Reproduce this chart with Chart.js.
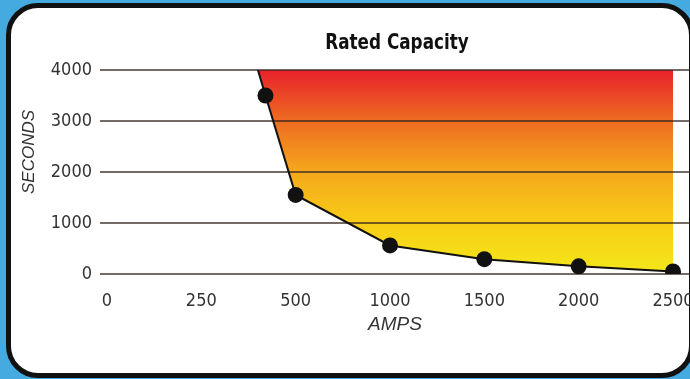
<!DOCTYPE html>
<html>
<head>
<meta charset="utf-8">
<script src="https://cdn.jsdelivr.net/npm/chart.js@4"></script>
<style>
  html, body { margin: 0; padding: 0; }
  body { width: 690px; height: 379px; background: #45aadf; position: relative; overflow: hidden; }
  .card {
    position: absolute; left: 6px; top: 3px; width: 688px; height: 375px;
    box-sizing: border-box; background: #fff; border: 5px solid #111; border-radius: 32px;
  }
  #chart { position: absolute; left: 0; top: 0; }
</style>
</head>
<body>
<div class="card"></div>
<canvas id="chart" width="690" height="379"></canvas>
<script>
// Data
const ampTicks = [0, 250, 500, 1000, 1500, 2000, 2500];
const amps = [400, 420, 500, 1000, 1500, 2000, 2500];
const seconds = [4000, 3500, 1550, 560, 290, 150, 50];
const secondTicks = [0, 1000, 2000, 3000, 4000];

const narrow = "'DejaVu Sans Condensed', 'Liberation Sans Narrow', 'Roboto', sans-serif";

// the x axis is evenly spaced per label, not linear in amps
function ampToPos(a) {
    for (let i = 1; i < ampTicks.length; i++) {
        if (a <= ampTicks[i]) {
            return i - 1 + (a - ampTicks[i - 1]) / (ampTicks[i] - ampTicks[i - 1]);
        }
    }
    return ampTicks.length - 1;
}

const points = amps.map((a, i) => ({ x: ampToPos(a), y: seconds[i] }));

const labelsPlugin = {
    id: 'labels',
    afterDraw(chart) {
        const ctx = chart.ctx;
        const area = chart.chartArea;
        ctx.save();
        ctx.fillStyle = '#111';
        ctx.textAlign = 'center';
        ctx.textBaseline = 'middle';
        // squeeze the title to look like the condensed face
        ctx.save();
        ctx.translate(397, 43);
        ctx.scale(0.85, 1);
        ctx.font = "bold 22px " + narrow;
        ctx.fillText('Rated Capacity', 0, 0);
        ctx.restore();

        ctx.fillStyle = '#333';
        ctx.font = "italic 19px 'Liberation Sans'";
        ctx.fillText('AMPS', (area.left + area.right) / 2, 325);

        ctx.translate(29, 152);
        ctx.rotate(-Math.PI / 2);
        ctx.font = "italic 17px 'Liberation Sans'";
        ctx.fillText('SECONDS', 0, 0);
        ctx.restore();
    }
};

new Chart(document.getElementById('chart'), {
    type: 'line',
    data: {
        datasets: [{
            data: points,
            borderColor: '#111',
            borderWidth: 2,
            tension: 0,
            fill: 'end',
            backgroundColor: (c) => {
                const area = c.chart.chartArea;
                if (!area) return '#f5a81c';
                const g = c.chart.ctx.createLinearGradient(0, area.top, 0, area.bottom);
                g.addColorStop(0, '#e8212a');
                g.addColorStop(0.25, '#ee6c22');
                g.addColorStop(0.5, '#f5a81c');
                g.addColorStop(0.75, '#f8cd16');
                g.addColorStop(1, '#f4e81a');
                return g;
            },
            pointRadius: amps.map((a, i) => i === 0 ? 0 : 8),
            pointHoverRadius: 8,
            pointBackgroundColor: '#111',
            pointBorderWidth: 0
        }]
    },
    options: {
        responsive: false,
        animation: false,
        layout: { autoPadding: false, padding: { top: 70, left: 0, right: 0, bottom: 0 } },
        scales: {
            x: {
                type: 'linear',
                min: -0.074,
                max: 6.18,
                afterBuildTicks: (s) => { s.ticks = ampTicks.map((a, i) => ({ value: i })); },
                afterFit: (s) => { s.height = 105; s.paddingLeft = 0; s.paddingRight = 0; },
                grid: { display: false },
                border: { display: false },
                ticks: {
                    autoSkip: false,
                    maxRotation: 0,
                    padding: 9,
                    color: '#333',
                    font: { family: narrow, size: 18 },
                    callback: (v) => String(ampTicks[v])
                }
            },
            y: {
                min: 0,
                max: 4000,
                afterBuildTicks: (s) => { s.ticks = secondTicks.map(v => ({ value: v })); },
                afterFit: (s) => { s.width = 100; s.paddingTop = 0; s.paddingBottom = 0; },
                grid: { color: 'rgba(50, 35, 30, 0.68)', lineWidth: 2, drawTicks: false },
                border: { display: false },
                ticks: {
                    padding: 8,
                    color: '#333',
                    font: { family: narrow, size: 18 },
                    callback: (v) => String(v)
                }
            }
        },
        plugins: {
            legend: { display: false },
            tooltip: { enabled: false },
            filler: { drawTime: 'beforeDraw' }
        }
    },
    plugins: [labelsPlugin]
});
</script>
</body>
</html>
